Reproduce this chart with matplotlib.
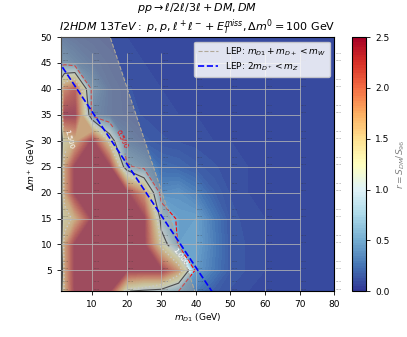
import matplotlib
matplotlib.use("Agg")
import matplotlib.pyplot as plt
import numpy as np

# grid of the scan (m_D1, delta m+) and the ratio r = S_DM / S_96
m_d1 = [1, 2, 5, 10, 15, 20, 25, 30, 35, 40, 45, 50, 55, 60, 65, 70, 75, 80]
dm_plus = [1, 5, 10, 15, 20, 25, 30, 35, 40, 45, 50]
r_map = [
    [0.80, 1.60, 4.0, 4.0, 4.0, 1.05, 0.80, 0.80, 0.50, 0.28, 0.16, 0.12, 0.10, 0.10, 0.10, 0.10, 0.10, 0.10],
    [0.45, 1.70, 5.0, 5.0, 5.0, 5.0, 5.0, 3.0, 1.80, 0.42, 0.28, 0.15, 0.12, 0.10, 0.10, 0.10, 0.10, 0.10],
    [0.80, 1.70, 5.0, 5.0, 5.0, 5.0, 5.0, 1.30, 0.45, 0.46, 0.30, 0.15, 0.12, 0.10, 0.10, 0.10, 0.10, 0.10],
    [0.80, 1.30, 1.60, 5.0, 5.0, 5.0, 4.0, 0.75, 0.45, 0.45, 0.28, 0.14, 0.11, 0.10, 0.10, 0.10, 0.10, 0.10],
    [0.80, 1.70, 5.0, 5.0, 5.0, 4.0, 1.80, 0.35, 0.38, 0.30, 0.18, 0.12, 0.10, 0.10, 0.10, 0.10, 0.10, 0.10],
    [0.80, 1.70, 5.0, 5.0, 3.0, 0.55, 0.40, 0.22, 0.20, 0.16, 0.13, 0.11, 0.10, 0.10, 0.10, 0.10, 0.10, 0.10],
    [0.80, 1.30, 1.60, 4.0, 1.30, 0.25, 0.16, 0.13, 0.12, 0.11, 0.10, 0.10, 0.10, 0.10, 0.10, 0.10, 0.10, 0.10],
    [1.10, 2.50, 4.0, 0.30, 0.18, 0.14, 0.12, 0.11, 0.10, 0.10, 0.10, 0.10, 0.10, 0.10, 0.10, 0.10, 0.10, 0.10],
    [1.40, 1.90, 2.20, 0.40, 0.18, 0.13, 0.11, 0.10, 0.10, 0.10, 0.10, 0.10, 0.10, 0.10, 0.10, 0.10, 0.10, 0.10],
    [0.40, 0.40, 0.30, 0.20, 0.14, 0.11, 0.10, 0.10, 0.10, 0.10, 0.10, 0.10, 0.10, 0.10, 0.10, 0.10, 0.10, 0.10],
    [0.22, 0.20, 0.16, 0.13, 0.11, 0.10, 0.10, 0.10, 0.10, 0.10, 0.10, 0.10, 0.10, 0.10, 0.10, 0.10, 0.10, 0.10],
]

# tiny value labels printed at the benchmark points
label_x = [1, 10, 20, 30, 40, 50, 60, 70, 80]
label_y = [1, 5, 10, 15, 20, 25, 30, 35, 40, 45]
label_top = [
    ["10.58", "1.276", "1.276", "1.276", "10.58", "1.875", "1.225", "0.560", "0.543"],
    ["1.276", "1.276", "1.276", "1.276", "0.676", "0.284", "0.543", "0.097", "0.097"],
    ["0.217", "1.276", "0.676", "0.675", "0.676", "0.676", "0.543", "0.888", "0.543"],
    ["0.217", "0.676", "0.676", "0.675", "0.082", "0.543", "0.582", "0.582", "0.097"],
    ["0.276", "0.676", "0.676", "0.675", "0.582", "0.543", "0.582", "0.582", "0.543"],
    ["0.276", "0.676", "0.676", "0.543", "0.560", "0.543", "0.543", "0.560", "0.543"],
    ["0.435", "0.435", "0.543", "0.560", "0.284", "0.543", "0.560", "0.543", "0.676"],
    ["0.435", "0.560", "0.458", "0.543", "0.560", "0.097", "0.097", "0.560", "0.543"],
    ["0.435", "0.560", "0.543", "0.543", "0.560", "0.543", "0.097", "0.097", "0.097"],
    ["0.435", "0.284", "0.543", "0.543", "0.543", "0.543", "0.543", "0.543", "0.084"],
]
label_bottom = [
    ["1.333", "1.333", "1.333", "1.333", "1.333", "1.333", "1.333", "1.333", "0.895"],
    ["0.284", "0.287", "0.884", "0.335", "0.419", "0.419", "0.419", "0.419", "0.391"],
    ["0.287", "0.287", "0.335", "0.884", "0.419", "0.419", "0.419", "0.419", "0.419"],
    ["0.287", "0.887", "0.287", "0.438", "0.880", "1.33", "0.895", "0.834", "0.391"],
    ["0.287", "0.403", "0.335", "1.33", "0.884", "0.884", "0.895", "0.834", "0.895"],
    ["0.287", "0.287", "1.33", "1.33", "1.335", "0.884", "0.895", "0.895", "0.895"],
    ["0.287", "0.287", "0.894", "1.333", "1.33", "0.885", "0.895", "0.895", "0.895"],
    ["0.223", "1.33", "1.333", "0.894", "0.885", "0.885", "0.895", "0.834", "0.834"],
    ["0.894", "1.33", "1.33", "0.895", "1.333", "0.885", "0.885", "0.834", "0.834"],
    ["0.894", "1.333", "1.33", "0.895", "0.895", "0.895", "0.895", "0.834", "0.834"],
]

m_w = 80.4
m_z = 91.19

fig = plt.figure(figsize=(4.07, 3.37), dpi=100)
ax = fig.add_axes([0.150, 0.136, 0.671, 0.754])
cax = fig.add_axes([0.865, 0.136, 0.034, 0.754])

X, Y = np.meshgrid(m_d1, dm_plus)
R = np.array(r_map)

# colour scale saturates at 2.5
fill = ax.contourf(X, Y, np.clip(R, 0, 2.5), levels=np.linspace(0, 2.5, 101),
                   cmap='RdYlBu_r', vmin=0, vmax=2.5, zorder=1)

c05 = ax.contour(X, Y, R, levels=[0.5], colors='red', linestyles='--', linewidths=0.8, zorder=2)
c10 = ax.contour(X, Y, R, levels=[1.0], colors='black', linestyles='-', linewidths=0.8, zorder=2)
c15 = ax.contour(X, Y, R, levels=[1.5], colors='white', linestyles=':', linewidths=1.0, zorder=2)
ax.clabel(c05, fmt='%.3f', fontsize=5, manual=[(20, 31)], inline=True)
ax.clabel(c10, fmt='%.3f', fontsize=5, manual=[(34, 7)], inline=True, colors='white')
ax.clabel(c15, fmt='%.3f', fontsize=5, manual=[(3, 30)], inline=True)

# LEP: m_D1 + m_D+ < m_W  ->  dm < m_W - 2 m_D1
m_line = np.array([0.0, 80.0])
dm_w = m_w - 2 * m_line
ax.fill_between(m_line, 0, dm_w, color='#969696', alpha=0.5, lw=0, zorder=3)
ax.plot(m_line, dm_w, '--', color='#b0a898', lw=0.8, zorder=3,
        label=r'LEP: $m_{D1} + m_{D+} < m_W$')

# LEP: 2 m_D+ < m_Z  ->  dm < m_Z/2 - m_D1
dm_z = m_z / 2 - m_line
ax.plot(m_line, dm_z, '--', color='blue', lw=1.2, zorder=5,
        label=r'LEP: $2m_{D^+} < m_Z$')

xticks = [10, 20, 30, 40, 50, 60, 70, 80]
yticks = [5, 10, 15, 20, 25, 30, 35, 40, 45, 50]
ax.hlines(yticks[:-1], 1, 70, color='#b4b4b4', lw=0.7, alpha=0.8, zorder=4)
ax.vlines(xticks[:-1], 1, 47, color='#b4b4b4', lw=0.7, alpha=0.8, zorder=4)

for i, yv in enumerate(label_y):
    for j, xv in enumerate(label_x):
        ax.text(xv + 0.4, yv + 1.7, label_top[i][j], fontsize=1.5, color='#333333', alpha=0.6, zorder=6)
        ax.text(xv + 0.4, yv + 0.3, label_bottom[i][j], fontsize=1.5, color='#333333', alpha=0.6, zorder=6)

ax.set_xlim(1, 80)
ax.set_ylim(1, 50)
ax.set_xticks(xticks)
ax.set_yticks(yticks)
ax.tick_params(labelsize=6.5, length=3, width=0.6)
ax.set_xlabel(r'$m_{D1}$ (GeV)', fontsize=6.5, labelpad=2)
ax.set_ylabel(r'$\Delta m^+$ (GeV)', fontsize=6.5, labelpad=2)
ax.set_title(r'$pp \rightarrow \ell/2\ell/3\ell + DM, DM$' + '\n' +
             r'$I2HDM\ 13TeV:\ p,p,\ell^+\ell^- + E_T^{miss}, \Delta m^0 = 100$ GeV',
             fontsize=8, pad=3, linespacing=1.2)
leg = ax.legend(loc='upper right', fontsize=6.5, framealpha=0.85, borderpad=0.4,
                handlelength=2.2, labelspacing=0.3)
leg.set_zorder(10)

cb = fig.colorbar(fill, cax=cax, ticks=[0, 0.5, 1.0, 1.5, 2.0, 2.5])
cb.ax.tick_params(labelsize=6.5, length=3, width=0.6)
cb.set_label(r'$r = S_{DM}/S_{96}$', fontsize=6.5, color='grey')

fig.savefig('out.png', dpi=100)
